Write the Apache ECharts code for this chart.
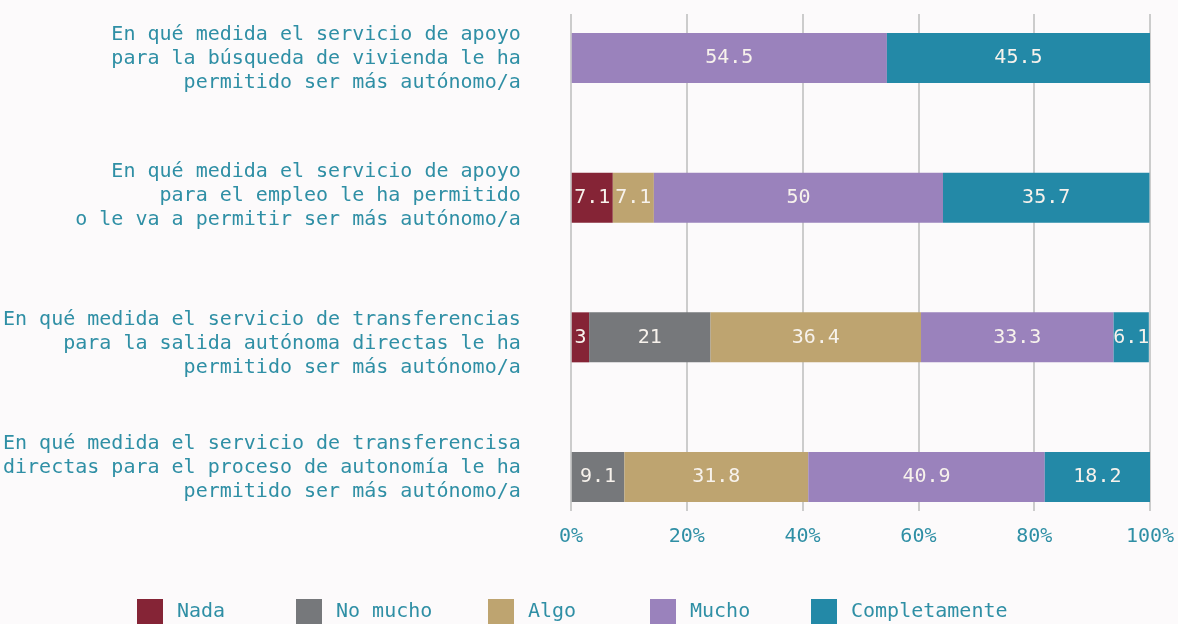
<!DOCTYPE html>
<html>
<head>
<meta charset="utf-8">
<script src="https://cdn.jsdelivr.net/npm/echarts@6/dist/echarts.min.js"></script>
<style>
html,body{margin:0;padding:0;background:#fcfafb;}
#c{width:1178px;height:624px;}
</style>
</head>
<body>
<div id="c"></div>
<script>
var categories = [
  "En qué medida el servicio de apoyo\npara la búsqueda de vivienda le ha\npermitido ser más autónomo/a",
  "En qué medida el servicio de apoyo\npara el empleo le ha permitido\no le va a permitir ser más autónomo/a",
  "En qué medida el servicio de transferencias\npara la salida autónoma directas le ha\npermitido ser más autónomo/a",
  "En qué medida el servicio de transferencisa\ndirectas para el proceso de autonomía le ha\npermitido ser más autónomo/a"
];
var seriesNames = ["Nada", "No mucho", "Algo", "Mucho", "Completamente"];
var nada = [null, 7.1, 3, null];
var noMucho = [null, null, 21, 9.1];
var algo = [null, 7.1, 36.4, 31.8];
var mucho = [54.5, 50, 33.3, 40.9];
var completamente = [45.5, 35.7, 6.1, 18.2];
var tickLabels = ["0%", "20%", "40%", "60%", "80%", "100%"];

var colors = ["#852436", "#76787b", "#bea470", "#9a82bc", "#2389a7"];
var values = [nada, noMucho, algo, mucho, completamente];
var FONT = "DejaVu Sans Mono";
var TEXT = "#2f8fa5";

// small vertical nudges of the category labels (spacer lines)
var labelNudge = [
  { pre: 2, post: 0 },
  { pre: 0, post: 4 },
  { pre: 12, post: 0 },
  { pre: 0, post: 19 }
];
var rich = {};
labelNudge.forEach(function (s, i) {
  rich["pre" + i] = { lineHeight: s.pre, fontSize: 1 };
  rich["post" + i] = { lineHeight: s.post, fontSize: 1 };
});

var series = seriesNames.map(function (n, i) {
  return {
    name: n,
    type: "bar",
    stack: "total",
    xAxisIndex: 0,
    yAxisIndex: 0,
    barWidth: 50,
    clip: false,
    data: values[i],
    itemStyle: { color: colors[i] },
    label: {
      show: true,
      position: "inside",
      color: "#f7f2ec",
      fontFamily: FONT,
      fontSize: 20,
      formatter: function (p) { return p.value == null ? "" : String(p.value); }
    },
    emphasis: { disabled: true }
  };
});

var legendLefts = [137, 296, 488, 650, 811];
var legends = seriesNames.map(function (n, i) {
  return {
    data: [n],
    left: legendLefts[i],
    top: 599,
    itemWidth: 26,
    itemHeight: 26,
    itemGap: 0,
    padding: 0,
    selectedMode: false,
    icon: "rect",
    textStyle: { fontFamily: FONT, fontSize: 20, color: TEXT, padding: [3, 0, 0, 9] }
  };
});

var chart = echarts.init(document.getElementById("c"), null, { renderer: "canvas" });
chart.setOption({
  backgroundColor: "#fcfafb",
  animation: false,
  legend: legends,
  grid: [
    { left: 571, right: 28, top: 58, height: 419, containLabel: false },
    { left: 571, right: 28, top: 14, bottom: 113, containLabel: false }
  ],
  xAxis: [
    { gridIndex: 0, type: "value", min: 0, max: 100, show: false },
    {
      gridIndex: 1, type: "value", min: 0, max: 100, interval: 20,
      axisLine: { show: false }, axisTick: { show: false },
      splitLine: { show: true, lineStyle: { color: "#cccccc", width: 2 } },
      axisLabel: {
        margin: 16, fontFamily: FONT, fontSize: 20, color: TEXT,
        formatter: function (v) { return tickLabels[Math.round(v / 20)]; }
      }
    }
  ],
  yAxis: [
    {
      gridIndex: 0, type: "category", data: categories, inverse: true, boundaryGap: false,
      axisLine: { show: false }, axisTick: { show: false }, splitLine: { show: false },
      axisLabel: {
        margin: 51, fontFamily: FONT, fontSize: 20, color: TEXT, lineHeight: 24, align: "right",
        rich: rich,
        formatter: function (v, idx) {
          var s = labelNudge[idx];
          var out = v;
          if (s.pre) out = "{pre" + idx + "| }\n" + out;
          if (s.post) out = out + "\n{post" + idx + "| }";
          return out;
        }
      }
    },
    { gridIndex: 1, type: "category", data: categories, show: false }
  ],
  series: series.concat([{
    type: "bar", xAxisIndex: 1, yAxisIndex: 1, data: [], silent: true
  }])
});
</script>
</body>
</html>
